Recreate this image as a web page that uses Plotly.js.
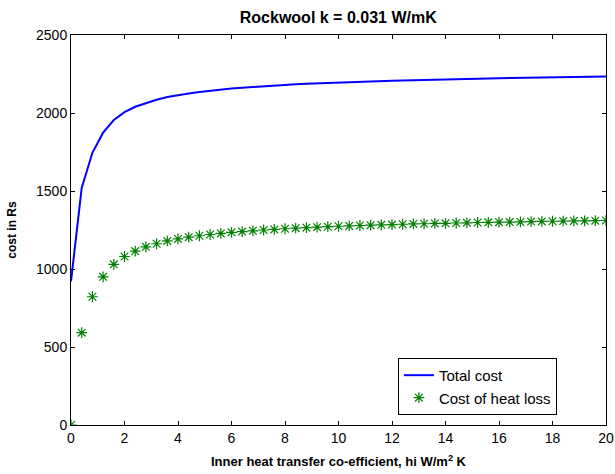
<!DOCTYPE html>
<html>
<head>
<meta charset="utf-8">
<script src="https://cdn.plot.ly/plotly-3.0.1.min.js"></script>
<style>html,body{margin:0;padding:0;background:#fff;}#chart{width:615px;height:474px;}</style>
</head>
<body>
<div id="chart"></div>
<script>
const hi = [0,0.4,0.8,1.2,1.6,2.0,2.4,2.8,3.2,3.6,4.0,4.4,4.8,5.2,5.6,6.0,6.4,6.8,7.2,7.6,8.0,8.4,8.8,9.2,9.6,10.0,10.4,10.8,11.2,11.6,12.0,12.4,12.8,13.2,13.6,14.0,14.4,14.8,15.2,15.6,16.0,16.4,16.8,17.2,17.6,18.0,18.4,18.8,19.2,19.6,20.0];
const totalCost = [920,1520,1745,1874,1955,2005,2040,2065,2085,2102,2115,2125,2135,2143,2150,2157,2162,2167,2172,2176,2180,2184,2187,2190,2193,2196,2198,2201,2203,2205,2207,2209,2211,2213,2214,2216,2217,2219,2220,2222,2223,2224,2225,2227,2228,2229,2230,2231,2232,2233,2234];
const heatLossCost = [0,592,822,950,1030,1080,1115,1142,1162,1180,1193,1204,1213,1221,1228,1235,1240,1245,1250,1254,1258,1262,1265,1268,1271,1274,1276,1279,1281,1283,1285,1287,1289,1290,1292,1293,1295,1296,1298,1299,1300,1301,1302,1304,1305,1306,1307,1308,1309,1310,1311];
const seriesNames = ['Total cost', 'Cost of heat loss'];
const xTicks = [0,2,4,6,8,10,12,14,16,18,20];
const yTicks = [0,500,1000,1500,2000,2500];

const font = 'Arial, "Liberation Sans", sans-serif';
const traces = [
  {x: hi, y: totalCost, name: seriesNames[0], type: 'scatter', mode: 'lines',
   line: {color: '#0000ff', width: 2}},
  {x: hi, y: heatLossCost, name: seriesNames[1], type: 'scatter', mode: 'markers',
   marker: {symbol: 'asterisk-open', size: 9, color: '#008000', line: {color: '#008000', width: 1.2}}}
];
const axisCommon = {
  showgrid: false, zeroline: false, showline: true, linecolor: '#000', linewidth: 1,
  mirror: 'ticks', ticks: 'inside', ticklen: 4, tickcolor: '#000',
  tickfont: {family: font, size: 14, color: '#000'}
};
const layout = {
  width: 615, height: 474,
  margin: {l: 71, r: 9, t: 35, b: 49},
  paper_bgcolor: '#fff', plot_bgcolor: '#fff',
  title: {text: 'Rockwool k = 0.031 W/mK', font: {family: font, size: 16, color: '#000', weight: 'bold'},
          x: 0.55, xanchor: 'center', y: 0.975, yanchor: 'top'},
  xaxis: Object.assign({}, axisCommon, {range: [0, 20], tickvals: xTicks,
    title: {text: 'Inner heat transfer co-efficient, hi W/m<sup>2</sup> K', font: {family: font, size: 13, color: '#000', weight: 'bold'}, standoff: 12}}),
  yaxis: Object.assign({}, axisCommon, {range: [0, 2500], tickvals: yTicks,
    title: {text: 'cost in Rs', font: {family: font, size: 12, color: '#000', weight: 'bold'}, standoff: 16}}),
  legend: {x: 0.611, y: 0.172, xanchor: 'left', yanchor: 'top', bgcolor: '#fff',
    bordercolor: '#000', borderwidth: 1, font: {family: font, size: 15, color: '#000'},
    tracegroupgap: 0, itemwidth: 30},
  showlegend: true
};
Plotly.newPlot('chart', traces, layout, {staticPlot: true, displayModeBar: false});
</script>
</body>
</html>
